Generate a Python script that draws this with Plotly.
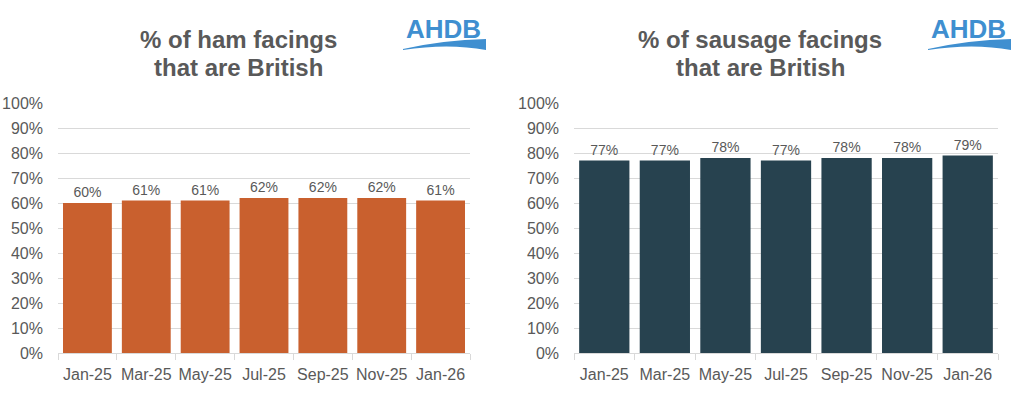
import plotly.graph_objects as go

W, H = 1024, 399

months = ["Jan-25", "Mar-25", "May-25", "Jul-25", "Sep-25", "Nov-25", "Jan-26"]
ham_pct = [60, 61, 61, 62, 62, 62, 61]
sausage_pct = [77, 77, 78, 77, 78, 78, 79]
y_ticks = list(range(0, 101, 10))
y_tick_labels = [f"{v}%" for v in y_ticks]

ham_color = "#C9602E"
sausage_color = "#27424F"
grey_text = "#595959"
grid_col = "#D9D9D9"
logo_blue = "#3F8FD0"
FONT = "Liberation Sans, Arial, sans-serif"

def px(x):
    return x / W

def py(y):
    return 1 - y / H

fig = go.Figure()

for vals, col, xa, ya in ((ham_pct, ham_color, "x", "y"),
                          (sausage_pct, sausage_color, "x2", "y2")):
    fig.add_trace(go.Bar(x=months, y=vals, marker_color=col, marker_line_width=0,
                         text=[f"{v}%" for v in vals], textposition="outside",
                         textfont=dict(size=14, color=grey_text, family=FONT),
                         cliponaxis=False, xaxis=xa, yaxis=ya, hoverinfo="x+y"))

ydom = [py(353), py(103)]
xcommon = dict(type="category", showgrid=False, showline=True, linecolor=grid_col,
               linewidth=1, ticks="outside", tickson="boundaries", ticklen=6,
               tickcolor=grid_col, tickangle=0, automargin=False, ticklabelstandoff=7,
               tickfont=dict(size=16, color=grey_text, family=FONT),
               fixedrange=True)
ycommon = dict(range=[0, 100], tickmode="array", tickvals=y_ticks, ticktext=y_tick_labels,
               showgrid=True, gridcolor=grid_col, gridwidth=1, zeroline=False,
               showline=False, automargin=False,
               tickfont=dict(size=16, color=grey_text, family=FONT), ticklabelstandoff=14,
               fixedrange=True)

fig.update_layout(
    width=W, height=H,
    margin=dict(l=0, r=0, t=0, b=0, autoexpand=False),
    paper_bgcolor="white", plot_bgcolor="white",
    showlegend=False, bargap=0.17,
    xaxis=dict(domain=[px(58), px(470)], anchor="y", **xcommon),
    yaxis=dict(domain=ydom, anchor="x", **ycommon),
    xaxis2=dict(domain=[px(574), px(998)], anchor="y2", **xcommon),
    yaxis2=dict(domain=ydom, anchor="x2", **ycommon),
)

titles = [(["% of ham facings", "that are British"], 238),
          (["% of sausage facings", "that are British"], 760)]
for lines, cx in titles:
    for txt, cy in zip(lines, (39, 67)):
        fig.add_annotation(text=txt, x=px(cx), y=py(cy), xref="paper", yref="paper",
                           xanchor="center", yanchor="middle", showarrow=False,
                           font=dict(size=24, color=grey_text, family=FONT, weight="bold"))

# AHDB logos
for lx in (403, 928):
    fig.add_annotation(text="AHDB", x=px(lx + 40), y=py(29), xref="paper", yref="paper",
                       xanchor="center", yanchor="middle", showarrow=False,
                       font=dict(size=26, color=logo_blue, family=FONT, weight="bold"))
    x0, x1 = lx, lx + 83
    path = (f"M {px(x0)},{py(49)} "
            f"Q {px(x0+40)},{py(40)} {px(x1)},{py(39)} "
            f"L {px(x1)},{py(50)} "
            f"Q {px(x0+45)},{py(43)} {px(x0)},{py(50)} Z")
    fig.add_shape(type="path", path=path, xref="paper", yref="paper",
                  fillcolor=logo_blue, line=dict(width=0))

fig.write_html("out.html", config={"displayModeBar": False},
               post_script="document.body.style.margin='0';document.body.style.overflow='hidden';")
